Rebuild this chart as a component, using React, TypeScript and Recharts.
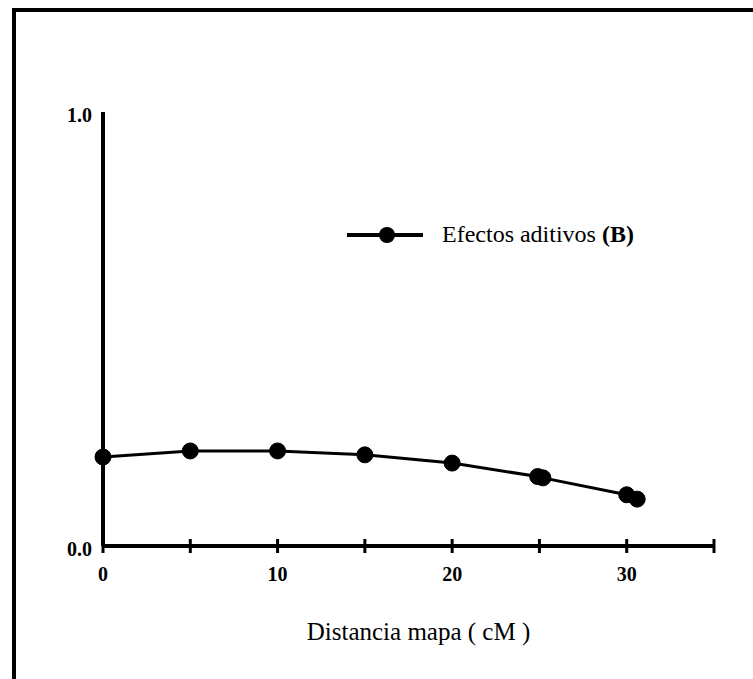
import React from "react";
import { LineChart, Line, XAxis, YAxis, Legend } from "recharts";

const distances = [0, 5, 10, 15, 20, 24.9, 25.2, 30, 30.6];
const additiveEffects = [0.205, 0.219, 0.219, 0.21, 0.191, 0.16, 0.157, 0.118, 0.108];
const xTicks = [0, 5, 10, 15, 20, 25, 30, 35];
const xLabeled = [0, 10, 20, 30];
const yTicks = [0, 1];
const seriesName = "Efectos aditivos";
const seriesTag = "(B)";
const xTitle = "Distancia mapa ( cM )";

const data = distances.map((d, i) => ({ x: d, y: additiveEffects[i] }));

const FONT = '"Liberation Serif", "Times New Roman", serif';

const LegendContent = () => (
  <div style={{ display: "flex", alignItems: "center", fontFamily: FONT, fontSize: 24, color: "#000", whiteSpace: "nowrap" }}>
    <svg width={78} height={20} style={{ display: "block" }}>
      <line x1={0} y1={10} x2={76} y2={10} stroke="#000" strokeWidth={4} />
      <circle cx={40} cy={10} r={8} fill="#000" />
    </svg>
    <span style={{ marginLeft: 17 }}>
      {seriesName} <b>{seriesTag}</b>
    </span>
  </div>
);

export default function App() {
  return (
    <div style={{ position: "absolute", left: 0, top: 0, width: 753, height: 679, background: "#fff", overflow: "hidden" }}>
      <div
        style={{
          position: "absolute",
          left: 12,
          top: 8,
          width: 753,
          height: 700,
          borderTop: "4px solid #000",
          borderLeft: "4px solid #000",
          boxSizing: "border-box",
        }}
      />
      <div style={{ position: "absolute", left: 0, top: 0 }}>
        <LineChart width={753} height={679} data={data} margin={{ top: 112, right: 39, bottom: 103, left: 63 }}>
          <XAxis
            dataKey="x"
            type="number"
            domain={[0, 35]}
            ticks={xTicks}
            interval={0}
            height={30}
            axisLine={{ stroke: "#000", strokeWidth: 4 }}
            tickLine={{ stroke: "#000", strokeWidth: 3, transform: "translate(0,-7)" }}
            tickSize={14}
            tickMargin={7}
            tickFormatter={(v: number) => (xLabeled.includes(v) ? String(v) : "")}
            tick={{ fill: "#000", fontFamily: FONT, fontSize: 20, fontWeight: "bold" }}
            label={{ value: xTitle, position: "bottom", offset: 46, dx: 10, fill: "#000", fontFamily: FONT, fontSize: 25 }}
          />
          <YAxis
            type="number"
            domain={[0, 1]}
            ticks={yTicks}
            width={40}
            axisLine={{ stroke: "#000", strokeWidth: 4 }}
            tickLine={false}
            tickSize={0}
            tickMargin={11}
            tickFormatter={(v: number) => v.toFixed(1)}
            tick={{ fill: "#000", fontFamily: FONT, fontSize: 20, fontWeight: "bold", dy: 3 }}
          />
          <Legend
            layout="horizontal"
            align="center"
            verticalAlign="middle"
            content={<LegendContent />}
            wrapperStyle={{ position: "absolute", left: 347, top: 221, width: "auto", height: "auto" }}
          />
          <Line
            dataKey="y"
            name={seriesName}
            type="linear"
            stroke="#000"
            strokeWidth={3}
            dot={{ r: 8, fill: "#000", stroke: "#000", strokeWidth: 1 }}
            isAnimationActive={false}
          />
        </LineChart>
      </div>
    </div>
  );
}
